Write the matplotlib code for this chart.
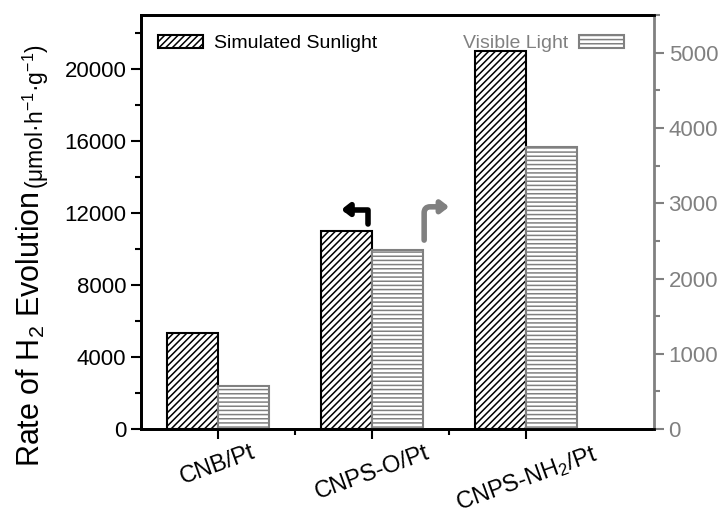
import numpy as np
import matplotlib
matplotlib.use('Agg')
import matplotlib.pyplot as plt
from matplotlib.ticker import MultipleLocator

plt.rcParams['font.family'] = ['Liberation Sans', 'DejaVu Sans']
plt.rcParams['mathtext.fontset'] = 'custom'
plt.rcParams['mathtext.rm'] = 'Liberation Sans'
plt.rcParams['mathtext.it'] = 'Liberation Sans:italic'
plt.rcParams['hatch.linewidth'] = 1.1

# data
samples = ['CNB/Pt', 'CNPS-O/Pt', 'CNPS-NH$_2$/Pt']
sunlight = [5350, 11000, 21000]      # left axis
visible = [570, 2380, 3750]          # right axis

gray = '#808080'
x = np.arange(len(samples))
w = 0.33

fig = plt.figure(figsize=(7.23, 5.22), dpi=100)
ax = fig.add_axes([0.195, 0.178, 0.7096, 0.793])
ax2 = ax.twinx()

b1 = ax.bar(x - w / 2, sunlight, w, color='white', edgecolor='black',
            hatch='/////', linewidth=1.5, label='Simulated Sunlight', zorder=2)
b2 = ax2.bar(x + w / 2, visible, w, color='white', edgecolor=gray,
             hatch='----', linewidth=1.5, label='Visible Light', zorder=2)

ax.set_xlim(-0.5, 2.83)
ax.set_ylim(0, 23000)
ax2.set_ylim(0, 5500)

ax.set_xticks(x)
ax.set_xticklabels(samples, rotation=20)
ax.set_xticks([0.5, 1.5], minor=True)

ax.yaxis.set_major_locator(MultipleLocator(4000))
ax.yaxis.set_minor_locator(MultipleLocator(2000))
ax2.yaxis.set_major_locator(MultipleLocator(1000))
ax2.yaxis.set_minor_locator(MultipleLocator(500))

ax.tick_params(axis='both', which='major', direction='out', length=7, width=1.5,
               labelsize=16, color='black')
ax.tick_params(axis='both', which='minor', direction='out', length=4, width=1.5)
ax.tick_params(axis='x', labelsize=17, pad=2)
ax.tick_params(axis='y', which='both', right=False)
ax2.tick_params(axis='y', which='major', direction='out', length=7, width=1.5,
                labelsize=16, colors=gray)
ax2.tick_params(axis='y', which='minor', direction='out', length=4, width=1.5,
                colors=gray)

for s in ['left', 'top', 'bottom']:
    ax.spines[s].set_linewidth(2)
    ax2.spines[s].set_linewidth(2)
ax2.spines['right'].set_color(gray)
ax2.spines['right'].set_linewidth(2)
ax.spines['right'].set_visible(False)

# legends
ax.legend(handles=[b1], loc='upper left', frameon=False, fontsize=14,
          handlelength=2.3, handleheight=0.67, handletextpad=0.55,
          bbox_to_anchor=(0.0, 0.995))
ax2.legend(handles=[b2], loc='upper right', frameon=False, fontsize=14,
           handlelength=2.3, handleheight=0.67, handletextpad=0.55,
           markerfirst=False, labelcolor=gray, bbox_to_anchor=(0.975, 0.995))

# axis arrows
ax.annotate('', xy=(0.8, 12200), xytext=(0.975, 11400),
            arrowprops=dict(arrowstyle='-|>,head_length=0.45,head_width=0.35',
                            connectionstyle='angle,angleA=90,angleB=0,rad=0',
                            lw=4, color='black', shrinkA=0, shrinkB=0))
ax.annotate('', xy=(1.5, 12350), xytext=(1.338, 10500),
            arrowprops=dict(arrowstyle='-|>,head_length=0.45,head_width=0.35',
                            connectionstyle='angle,angleA=90,angleB=0,rad=6',
                            lw=4, color=gray, shrinkA=0, shrinkB=0))

# y label in two sizes
t1 = fig.text(0.043, (522 - 467) / 522, 'Rate of H$_2$ Evolution', rotation=90,
              ha='center', va='bottom', fontsize=22)
fig.canvas.draw()
bb = t1.get_window_extent()
fig.text(0.049, (bb.y1 + 2) / fig.bbox.height, '(μmol·h$^{-1}$·g$^{-1}$)',
         rotation=90, ha='center', va='bottom', fontsize=16.5)

fig.savefig('out.png', dpi=100)
